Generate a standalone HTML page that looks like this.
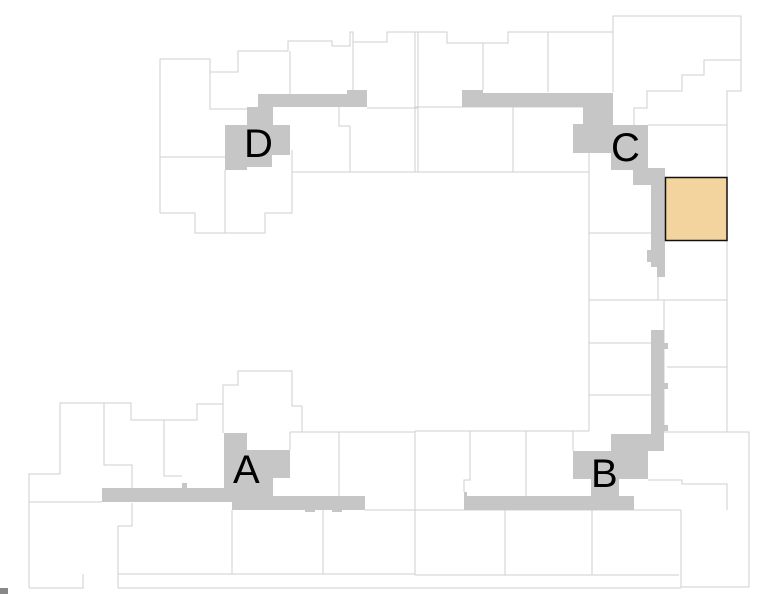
<!DOCTYPE html>
<html><head><meta charset="utf-8"><style>
html,body{margin:0;padding:0;background:#fff;}
svg{display:block;}
text{font-family:"Liberation Sans",sans-serif;font-size:40px;fill:#000;}
</style></head><body>
<svg width="759" height="594" viewBox="0 0 759 594" xmlns="http://www.w3.org/2000/svg">
<g fill="none" stroke="#cfcfcf" stroke-width="1">
<!-- top-left D building -->
<polyline points="160,213 160,59 210,59 210,72 238,72 238,51 288,51 288,41 332,41 332,46 350,46 350,32 353,32 353,42 387,42 387,32 418,32"/>
<polyline points="210,72 210,109 247,109"/>
<line x1="160" y1="157" x2="225" y2="157"/>
<line x1="225" y1="170" x2="225" y2="233"/>
<polyline points="160,213 195,213 195,233 265,233 265,213 292,213 292,150"/>
<line x1="290" y1="51" x2="290" y2="94"/>
<line x1="353" y1="42" x2="353" y2="92"/>
<line x1="292" y1="172" x2="418" y2="172"/>
<line x1="418" y1="32" x2="418" y2="172"/>
<polyline points="339,107 339,126 350,126 350,172"/>
<line x1="367" y1="108" x2="418" y2="108"/>
<!-- top right -->
<polyline points="415,32 447,32 447,43 508,43 508,32 613,32 613,16 741,16 741,91 727,91 727,300"/>
<line x1="415" y1="32" x2="415" y2="172"/>
<line x1="483" y1="43" x2="483" y2="90"/>
<line x1="548" y1="32" x2="548" y2="92"/>
<line x1="415" y1="107" x2="583" y2="107"/>
<line x1="513" y1="107" x2="513" y2="172"/>
<line x1="415" y1="172" x2="589" y2="172"/>
<line x1="613" y1="16" x2="613" y2="92"/>
<polyline points="741,60 704,60 704,75 682,75 682,91 647,91 647,108 634,108 634,125"/>
<line x1="648" y1="125" x2="727" y2="125"/>
<line x1="589" y1="153" x2="589" y2="431"/>
<line x1="589" y1="233" x2="651" y2="233"/>
<line x1="658" y1="241" x2="658" y2="300"/>
<line x1="589" y1="300" x2="727" y2="300"/>
<!-- right middle -->
<line x1="664" y1="300" x2="664" y2="432"/>
<line x1="589" y1="343" x2="651" y2="343"/>
<line x1="589" y1="395" x2="651" y2="395"/>
<line x1="667" y1="367" x2="727" y2="367"/>
<line x1="727" y1="300" x2="727" y2="432"/>
<polyline points="664,432 749,432 749,587"/>
<polyline points="648,480 682,480 682,484 727,484 727,510"/>
<!-- bottom right -->
<line x1="415" y1="431" x2="589" y2="431"/>
<line x1="573" y1="431" x2="573" y2="451"/>
<polyline points="470,431 470,480 464,480 464,492"/>
<line x1="526" y1="431" x2="526" y2="496"/>
<line x1="415" y1="431" x2="415" y2="575"/>
<line x1="365" y1="510" x2="681" y2="510"/>
<line x1="415" y1="575" x2="679" y2="575"/>
<line x1="505" y1="510" x2="505" y2="575"/>
<line x1="592" y1="510" x2="592" y2="575"/>
<polyline points="681,510 681,587 749,587"/>
<line x1="118" y1="588" x2="681" y2="588"/>
<!-- bottom left -->
<polyline points="29,588 29,474 60,474 60,403 104,403 104,465 132,465 132,488"/>
<polyline points="104,403 131,403 131,420 164,420 164,476 182,476"/>
<polyline points="164,420 197,420 197,404 223,404 223,433"/>
<polyline points="223,433 223,385 238,385 238,371 292,371 292,406 302,406 302,432"/>
<line x1="290" y1="432" x2="415" y2="432"/>
<line x1="290" y1="432" x2="290" y2="450"/>
<line x1="339" y1="432" x2="339" y2="496"/>
<line x1="29" y1="502" x2="102" y2="502"/>
<polyline points="132,503 132,526 118,526 118,588"/>
<line x1="118" y1="574" x2="415" y2="574"/>
<polyline points="29,588 83,588 83,574"/>
<line x1="232" y1="510" x2="232" y2="574"/>
<line x1="323" y1="510" x2="323" y2="574"/>
</g>
<g fill="#c6c6c6">
<!-- D -->
<polygon points="258,94 347,94 347,90 367,90 367,107 273,107 273,125 290,125 290,155 272,155 272,167 247,167 247,170 225,170 225,125 247,125 247,107 258,107"/>
<!-- C -->
<polygon points="462,90 483,90 483,93 613,93 613,125 648,125 648,170 633,170 633,168 665,168 665,185 665,277 657,277 657,267 651,267 651,262 647,262 647,250 651,250 651,185 633,185 633,170 611,170 611,153 573,153 573,124 583,124 583,107 462,107"/>
<!-- B -->
<polygon points="464,492 467,492 467,496 591,496 591,479 573,479 573,451 611,451 611,434 651,434 651,330 664,330 664,434 664,451 648,451 648,479 619,479 619,496 634,496 634,510 464,510"/>
<rect x="664" y="343" width="4" height="6"/><rect x="664" y="383" width="4" height="6"/><rect x="664" y="425" width="4" height="6"/>
<!-- A -->
<polygon points="102,488 224,488 224,433 247,433 247,450 290,450 290,478 273,478 273,496 365,496 365,510 232,510 232,502 102,502"/>
<rect x="182" y="483" width="5" height="5"/>
<rect x="305" y="508" width="10" height="4"/><rect x="332" y="508" width="10" height="4"/>
</g>
<rect x="665.5" y="177.5" width="61.5" height="63" fill="#f4d49e" stroke="#111" stroke-width="1.5"/>
<rect x="0" y="588" width="8" height="6" fill="#888"/>
<text x="244" y="157">D</text>
<text x="611" y="161">C</text>
<text x="233" y="483">A</text>
<text x="591" y="487">B</text>
</svg>
</body></html>
